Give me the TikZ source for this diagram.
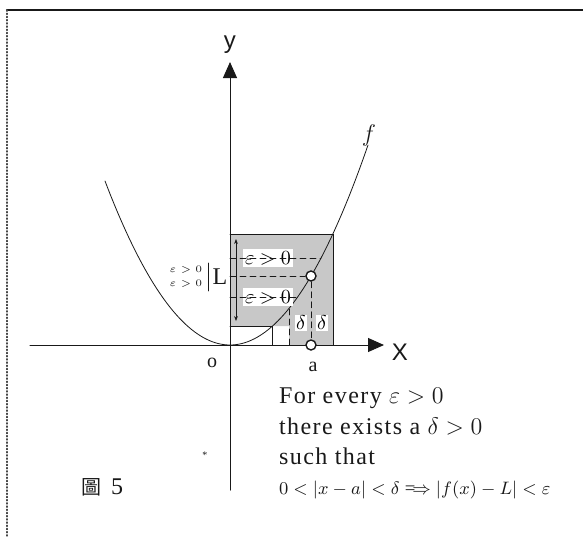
\documentclass[tikz,border=0pt]{standalone}
\usepackage{amsmath,amssymb}
\usepackage{fontspec}
\setmainfont{Liberation Serif}
\setsansfont{Liberation Sans}
\newfontfamily\cjkfont{Noto Sans CJK TC}
\newfontfamily\spacedfont[LetterSpace=6]{Liberation Serif}
\usetikzlibrary{calc,positioning,arrows.meta}
\definecolor{ScanInk}{RGB}{25,25,25}
\definecolor{ScanShade}{RGB}{200,200,200}
\definecolor{ScanFrame}{RGB}{70,70,70}

\begin{document}
\begin{tikzpicture}[x=0.5pt,y=0.5pt,line cap=round]
        \useasboundingbox (-230,-192) rectangle (353,345);

        % frame of the scanned page
        \draw[ScanInk,line width=1.1pt] (-223,335) -- (353,335);
        \draw[ScanFrame,line width=0.6pt,densely dotted] (-223,335) -- (-223,-192);

        % shaded neighbourhoods around L and a
        \fill[ScanShade] (0,19) -- (0,111) -- (103,111) -- (103,0) -- (59,0) -- (59,19) -- cycle;
        \draw[ScanInk,fill=white,line width=0.4pt] (0,18.5) -- (42,18.5) -- (42,0);
        \draw[ScanInk,line width=0.4pt] (0,111) -- (103,111) -- (103,0);

        % axes
        \coordinate (xstart) at (-200,0);
        \coordinate (xend) at (154,0);
        \coordinate (ystart) at (0,-145);
        \coordinate (yend) at (0,283);
        \draw[ScanInk,line width=0.5pt,-{Triangle[length=8pt,width=7pt]}] (xstart) -- (xend);
        \draw[ScanInk,line width=0.5pt,-{Triangle[length=8pt,width=7pt]}] (ystart) -- (yend);
        \node[font=\sffamily\large,text=ScanInk] (ylab) at (0,300) {y};
        \node[font=\sffamily\large,text=ScanInk] (xlab) at (170,-7) {X};
        \node[font=\normalsize,text=ScanInk] (olab) at (-18,-18) {o};

        % the graph of f
        \draw[ScanInk,line width=0.4pt] plot[domain=-125:138,samples=80,smooth] (\x,{0.0105*\x*\x});
        \node[font=\large,text=ScanInk] (flab) at (139,210) {$f$};

        % epsilon band
        \node[fill=white,inner sep=1pt,font=\normalsize] (epsup) at (38,87) {$\varepsilon>0$};
        \node[fill=white,inner sep=1pt,font=\normalsize] (epslo) at (38,48) {$\varepsilon>0$};
        \draw[ScanInk,line width=0.3pt,densely dashed] (0,87) -- (91,87);
        \draw[ScanInk,line width=0.3pt,densely dashed] (0,48) -- (67.6,48);
        \draw[ScanInk,line width=0.3pt,{Stealth[length=2.5pt]}-{Stealth[length=2.5pt]}] (6,106) -- (6,24);

        % delta strips
        \draw[ScanInk,line width=0.3pt,densely dashed] (59,0) -- (59,36.5);
        \node[font=\normalsize,inner sep=0.5pt,fill=white] (dlo) at (71,22) {$\delta$};
        \node[font=\normalsize,inner sep=0.5pt,fill=white] (dhi) at (92,22) {$\delta$};

        % the point (a,L)
        \node[circle,draw=ScanInk,fill=white,line width=0.7pt,inner sep=0pt,minimum size=5pt] (pa) at (81,0) {};
        \node[circle,draw=ScanInk,fill=white,line width=0.7pt,inner sep=0pt,minimum size=5pt] (pL) at (81,69) {};
        \coordinate (Laxis) at (0,69);
        \draw[ScanInk,line width=0.3pt,densely dashed] (Laxis) -- (pL);
        \draw[ScanInk,line width=0.3pt,densely dashed] (pL) -- (pa);
        \node[font=\normalsize,text=ScanInk] (alab) at (83,-22) {a};

        % L with its bracket
        \node[font=\large,text=ScanInk] (Llab) at (-10,68) {L};
        \coordinate (brtop) at (-22,82);
        \coordinate (brbot) at (-22,54);
        \draw[ScanInk,line width=0.3pt] (brtop) -- (brbot);
        \node[font=\tiny,text=ScanInk] (tinyup) at (-44,75) {$\varepsilon>0$};
        \node[font=\tiny,text=ScanInk] (tinylo) at (-44,61) {$\varepsilon>0$};

        % the definition
        \node[anchor=base west,font=\spacedfont\large,text=ScanInk] (every) at (42,-58) {For every $\varepsilon>0$};
        \node[anchor=base west,font=\spacedfont\large,text=ScanInk] (exists) at (42,-89) {there exists a $\delta>0$};
        \node[anchor=base west,font=\spacedfont\large,text=ScanInk] (such) at (42,-119) {such that};
        \node[anchor=base west,font=\fontsize{9.4}{11}\selectfont,text=ScanInk] (impl) at (42,-149) {$0<|x-a|<\delta\Longrightarrow|f(x)-L|<\varepsilon$};

        % caption
        \node[anchor=base west,font=\normalsize,text=ScanInk] (fig) at (-156,-149) {{\cjkfont 圖}\ \ {\large 5}};
        \node[font=\tiny,text=ScanInk] (star) at (-25,-110) {*};
      \end{tikzpicture}
\end{document}
